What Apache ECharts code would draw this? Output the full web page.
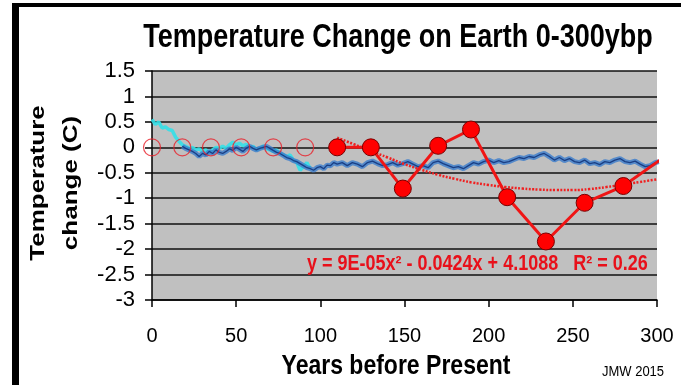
<!DOCTYPE html>
<html><head><meta charset="utf-8">
<script src="https://cdn.jsdelivr.net/npm/echarts@6/dist/echarts.min.js"></script>
<style>html,body{margin:0;padding:0;background:#fff}#c{width:681px;height:385px}</style>
</head><body><div id="c"></div>
<script>
// Tick labels
const xTicks = [0, 50, 100, 150, 200, 250, 300];
const yTicks = [-3, -2.5, -2, -1.5, -1, -0.5, 0, 0.5, 1, 1.5];

// Red filled proxy points (years, temp change)
const redX = [110, 130, 149, 170, 189.5, 211, 234, 257, 280, 303.5];
const redY = [0, 0, -0.81, 0.03, 0.35, -0.98, -1.85, -1.09, -0.76, -0.21];

// Hollow red circles
const hollowX = [0, 18, 35, 53, 72, 91];
const hollowY = [0, 0, 0, 0, 0, 0];

// Trend line
const trendX = [110, 120, 130, 140, 150, 160, 170, 180, 190, 200, 210, 220, 230, 240, 250, 260, 270, 280, 290, 300];
const trendY = [0.19, 0.06, -0.07, -0.2, -0.33, -0.44, -0.54, -0.62, -0.69, -0.74, -0.78, -0.81, -0.83, -0.84, -0.84, -0.82, -0.78, -0.73, -0.68, -0.63];

// Dark blue series
const blueX = [18,20,22,24,26,28,30,32,34,36,38,40,42,44,46,48,50,52,54,56,58,60,62,64,66,68,70,72,74,76,78,80,82,84,86,88,90,92,94,96,98,100,102,104,106,108,110,113,116,119,122,125,128,131,134,137,140,143,146,149,152,155,158,161,164,167,170,173,176,179,182,185,188,191,194,197,200,203,206,209,212,215,218,221,224,227,230,233,236,239,242,245,248,251,254,257,260,263,266,269,272,275,278,281,284,287,290,293,296,299,301];
const blueY = [0.02,-0.02,-0.05,-0.08,-0.12,-0.18,-0.12,-0.15,-0.08,-0.12,-0.05,-0.1,-0.12,-0.08,-0.03,-0.06,0.0,-0.04,-0.08,-0.02,0.02,-0.02,-0.05,-0.02,0.0,0.02,-0.02,-0.06,-0.1,-0.12,-0.16,-0.2,-0.22,-0.26,-0.28,-0.32,-0.36,-0.4,-0.42,-0.45,-0.4,-0.38,-0.42,-0.35,-0.36,-0.3,-0.33,-0.3,-0.36,-0.3,-0.33,-0.38,-0.3,-0.27,-0.32,-0.36,-0.34,-0.3,-0.35,-0.32,-0.28,-0.33,-0.38,-0.36,-0.4,-0.3,-0.27,-0.32,-0.36,-0.4,-0.38,-0.42,-0.36,-0.3,-0.33,-0.28,-0.25,-0.3,-0.26,-0.3,-0.28,-0.24,-0.2,-0.22,-0.18,-0.2,-0.15,-0.12,-0.18,-0.25,-0.2,-0.26,-0.22,-0.28,-0.3,-0.25,-0.32,-0.3,-0.34,-0.28,-0.3,-0.25,-0.22,-0.28,-0.3,-0.27,-0.33,-0.38,-0.36,-0.3,-0.28];

// Cyan series
const cyanX = [0,2,4,6,8,10,12,14,16,18,20,22,24,26,28,30,32,34,36,38,40,42,44,46,48,50,52,54,56,58,60,62,64,66,68,70,72,74,76,78,80,82,84,86,88,90,92,94];
const cyanY = [0.55,0.45,0.5,0.38,0.4,0.35,0.33,0.2,0.12,0.05,0.02,-0.02,0.0,-0.05,-0.03,-0.08,-0.05,-0.1,-0.05,0.0,-0.02,0.02,-0.02,0.05,0.1,0.05,0.08,0.03,0.06,0.0,0.02,-0.05,-0.02,0.03,-0.03,-0.05,-0.08,-0.05,-0.12,-0.15,-0.18,-0.15,-0.25,-0.3,-0.45,-0.38,-0.3,-0.42];

// Texts
const titleText = 'Temperature Change on Earth 0-300ybp';
const xName = 'Years before Present';
const yName = 'Temperature\nchange (C)';
const eqText = 'y = 9E-05x² - 0.0424x + 4.1088   R² = 0.26';
const credit = 'JMW 2015';

const zip = (a, b) => a.map((v, i) => [v, b[i]]);
const FONT = 'Liberation Sans, Arial, sans-serif';

const chart = echarts.init(document.getElementById('c'), null, {renderer: 'canvas'});
chart.setOption({
  animation: false,
  backgroundColor: '#ffffff',
  grid: {left: 152, right: 24, top: 71, bottom: 85, show: true, backgroundColor: '#c0c0c0', borderWidth: 0},
  xAxis: {
    type: 'value', min: 0, max: 300, interval: 50,
    axisLine: {onZero: false, lineStyle: {color: '#000', width: 1.5}},
    axisTick: {show: true, inside: false, length: 7, lineStyle: {color: '#000', width: 1.5}},
    axisLabel: {fontFamily: FONT, fontSize: 20, color: '#000', margin: 26,
      formatter: v => xTicks.includes(v) ? String(v) : ''},
    splitLine: {show: false}
  },
  yAxis: {
    type: 'value', min: -3, max: 1.5, interval: 0.5,
    axisLine: {show: true, lineStyle: {color: '#000', width: 1.5}},
    axisTick: {show: true, inside: false, length: 7, lineStyle: {color: '#000', width: 1.5}},
    axisLabel: {fontFamily: FONT, fontSize: 22, color: '#000', margin: 17,
      formatter: v => yTicks.includes(v) ? String(v) : ''},
    splitLine: {show: true, lineStyle: {color: '#111', width: 1.5}}
  },
  series: [
    {
      type: 'line', data: zip(cyanX, cyanY), showSymbol: false, symbol: 'none',
      lineStyle: {color: '#33e0e8', width: 3.5, opacity: 0.9}, z: 3
    },
    {
      type: 'line', data: zip(blueX, blueY), showSymbol: false, symbol: 'none',
      lineStyle: {color: '#3a7ccc', width: 5, opacity: 0.8}, z: 4
    },
    {
      type: 'line', data: zip(blueX, blueY), showSymbol: false, symbol: 'none',
      lineStyle: {color: '#1a3f85', width: 1.3}, z: 5
    },
    {
      type: 'scatter', data: zip(hollowX, hollowY), symbol: 'circle', symbolSize: 17,
      itemStyle: {color: 'rgba(0,0,0,0)', borderColor: '#e8202a', borderWidth: 1.2}, z: 6
    },
    {
      type: 'line', data: zip(trendX, trendY), showSymbol: false, symbol: 'none', smooth: true,
      lineStyle: {color: '#f02020', width: 2.5, type: [2, 1.5]}, z: 7
    },
    {
      type: 'line', data: zip(redX, redY), clip: false,
      symbol: 'circle', symbolSize: (v, p) => p.dataIndex === redX.length - 1 ? 0 : 17,
      showAllSymbol: true,
      lineStyle: {color: '#f01515', width: 3},
      itemStyle: {color: '#ff0000', borderColor: '#7a0000', borderWidth: 1}, z: 8
    }
  ],
  graphic: [
    {type: 'rect', shape: {x: 12, y: 3, width: 7, height: 382}, style: {fill: '#000'}},
    {type: 'rect', shape: {x: 12, y: 3, width: 669, height: 4}, style: {fill: '#000'}},
    {type: 'text', x: 398, y: 38, scaleY: 1.2,
      style: {text: titleText, font: 'bold 27px ' + FONT, fill: '#000',
        textAlign: 'center', textVerticalAlign: 'middle', align: 'center', verticalAlign: 'middle'}},
    {type: 'text', x: 396, y: 366, scaleY: 1.2,
      style: {text: xName, font: 'bold 23px ' + FONT, fill: '#000',
        textAlign: 'center', textVerticalAlign: 'middle', align: 'center', verticalAlign: 'middle'}},
    {type: 'text', x: 55, y: 183, rotation: Math.PI / 2, scaleX: 1.3,
      style: {text: yName, font: 'bold 20px ' + FONT, fill: '#000', lineHeight: 33,
        textAlign: 'center', textVerticalAlign: 'middle', align: 'center', verticalAlign: 'middle'}},
    {type: 'text', x: 307, y: 264, scaleY: 1.2, z: 100,
      style: {text: eqText, font: 'bold 18px ' + FONT, fill: '#e8101a',
        textAlign: 'left', textVerticalAlign: 'middle', align: 'left', verticalAlign: 'middle'}},
    {type: 'text', x: 633, y: 372, scaleY: 1.15,
      style: {text: credit, font: '13px ' + FONT, fill: '#000',
        textAlign: 'center', textVerticalAlign: 'middle', align: 'center', verticalAlign: 'middle'}}
  ]
});
</script></body></html>
